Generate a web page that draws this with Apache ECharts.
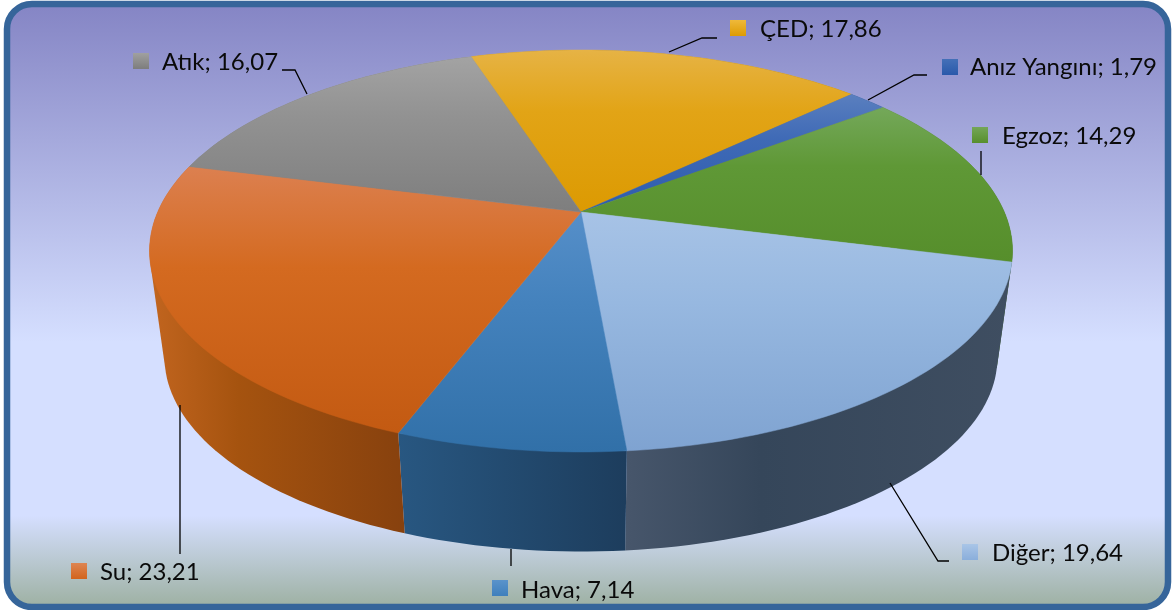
<!DOCTYPE html>
<html><head><meta charset="utf-8">
<style>html,body{margin:0;padding:0;background:#fff}#c{width:1173px;height:610px}</style>
<script src="https://cdn.jsdelivr.net/npm/echarts@6/dist/echarts.min.js"></script>
</head><body><div id="c"></div>
<script>
// Data, clockwise from the first slice
const categories = ['ÇED','Anız Yangını','Egzoz','Diğer','Hava','Su','Atık'];
const values = [17.86,1.79,14.29,19.64,7.14,23.21,16.07];

// Styles
const topStops = [
  ['#e6b345','#e2a416','#dc9a02'],
  ['#5a7fbf','#3f6ab6','#2d5cae'],
  ['#74a85a','#5f9836','#568e2b'],
  ['#a7c3e6','#97b8e0','#7fa3d1'],
  ['#568fc9','#4482bd','#3170a8'],
  ['#dc8050','#d46a20','#c35a12'],
  ['#a3a3a3','#929292','#7e7e7e']
];
const sideStops = [
  ['#b8860b','#a07000'],['#2a4a85','#24407a'],['#466f25','#3f6520'],
  ['#47566b','#35465a','#3f4e61'],['#285781','#1d3d5d'],['#c2651f','#a5530f','#87410e'],['#777','#666']
];
const keyStops = [
  ['#efb93a','#dd9b02'],['#4470b8','#2a59aa'],['#74a658','#578f2c'],
  ['#a9c5e7','#8aaedb'],['#5a93cb','#3f7fbc'],['#de8552','#d2641c'],['#a0a0a0','#7d7d7d']
];
// Label layout: key box, text, leader line
const keyBoxes = [[730,20],[942,59],[972,127],[962,544],[492,580],[71,563],[133,53]];
const textAnchors = [[760,29],[970,67],[1002,136],[992,553],[521,590],[100,572],[162,62]];
const leaders = [
  [[717,38],[702,38],[669,52]],
  [[927,75],[914,75],[868,100]],
  [[981,151],[981,175]],
  [[890,483],[938,561],[949,561]],
  [[511,549],[511,566]],
  [[180,405],[180,554]],
  [[282,70],[295,70],[307,94]]
];
// Perspective disc layout
const apex = [581,212], sx = 423.3, sy = 193.4, persp = -0.194, startDeg = -17.9;
const bottomApexY = 320, bottomScale = 0.965;

const total = values.reduce((a,b)=>a+b,0);
function rim(deg, base){
  const t = deg*Math.PI/180, u = Math.sin(t), v = -Math.cos(t), w = 1+persp*v;
  const s = base ? bottomScale : 1;
  return [apex[0]+s*sx*u/w, (base?bottomApexY:apex[1])+s*sy*v/w];
}
function arcPts(a,b,base){
  const n = Math.max(4,Math.ceil((b-a)/1.5)), p=[];
  for(let i=0;i<=n;i++) p.push(rim(a+(b-a)*i/n,base));
  return p;
}
function hull(pts){
  const s=pts.slice().sort((p,q)=>p[0]-q[0]||p[1]-q[1]);
  const cross=(o,a,b)=>(a[0]-o[0])*(b[1]-o[1])-(a[1]-o[1])*(b[0]-o[0]);
  const half=list=>{const h=[];for(const p of list){while(h.length>1&&cross(h[h.length-2],h[h.length-1],p)<=0)h.pop();h.push(p);}h.pop();return h;};
  return half(s).concat(half(s.slice().reverse()));
}
function stopsOf(cols,mid){
  return cols.map((c,i)=>({offset:cols.length===3&&i===1?mid:i/(cols.length-1),color:c}));
}
let acc = startDeg;
const spans = values.map(v=>{const a=acc; acc+=v/total*360; return [a,acc];});

const chart = echarts.init(document.getElementById('c'),null,{renderer:'canvas'});
chart.setOption({
  animation:false,
  graphic:[{type:'rect',z:-1,shape:{x:7,y:4,width:1161,height:603,r:25},
    style:{lineWidth:6.5,stroke:'#36659a',fill:new echarts.graphic.LinearGradient(0,0,0,1,[
      {offset:0,color:'#8484c4'},{offset:0.56,color:'#d5dfff'},{offset:0.845,color:'#d5dfff'},{offset:0.99,color:'#9fb2a5'},{offset:1,color:'#9fb2a5'}])}}],
  series:[
    {type:'custom',coordinateSystem:'none',silent:true,z:2,data:values.map((v,i)=>i),
     renderItem(p,api){
       const i=api.value(0),[a,b]=spans[i];
       const pts=hull(arcPts(a,b,false).concat(arcPts(a,b,true)));
       const f=new echarts.graphic.LinearGradient(0,0,1,0,stopsOf(sideStops[i],0.35));
       return {type:'polygon',shape:{points:pts},style:{fill:f}};
     }},
    {type:'custom',coordinateSystem:'none',silent:true,z:3,data:values.map((v,i)=>i),
     renderItem(p,api){
       const i=api.value(0),[a,b]=spans[i];
       const f=new echarts.graphic.LinearGradient(0,0,0,1,stopsOf(topStops[i],0.38));
       return {type:'polygon',shape:{points:[apex].concat(arcPts(a,b,false))},style:{fill:f,stroke:f,lineWidth:0.5}};
     }},
    {type:'custom',coordinateSystem:'none',silent:true,z:4,data:values.map((v,i)=>i),
     renderItem(p,api){
       const i=api.value(0);
       return {type:'group',children:[
         {type:'polyline',shape:{points:leaders[i]},style:{stroke:'#000',lineWidth:1.3,fill:null}},
         {type:'rect',shape:{x:keyBoxes[i][0],y:keyBoxes[i][1],width:16,height:16},style:{fill:new echarts.graphic.LinearGradient(0,0,0,1,stopsOf(keyStops[i],0.5))}},
         {type:'text',x:textAnchors[i][0],y:textAnchors[i][1],style:{
           text:categories[i]+'; '+values[i].toFixed(2).replace('.',','),
           fill:'#0a0a0a',font:'24px Lato, "Open Sans", sans-serif',textAlign:'left',textVerticalAlign:'middle'}}
       ]};
     }}
  ]
});
</script></body></html>
